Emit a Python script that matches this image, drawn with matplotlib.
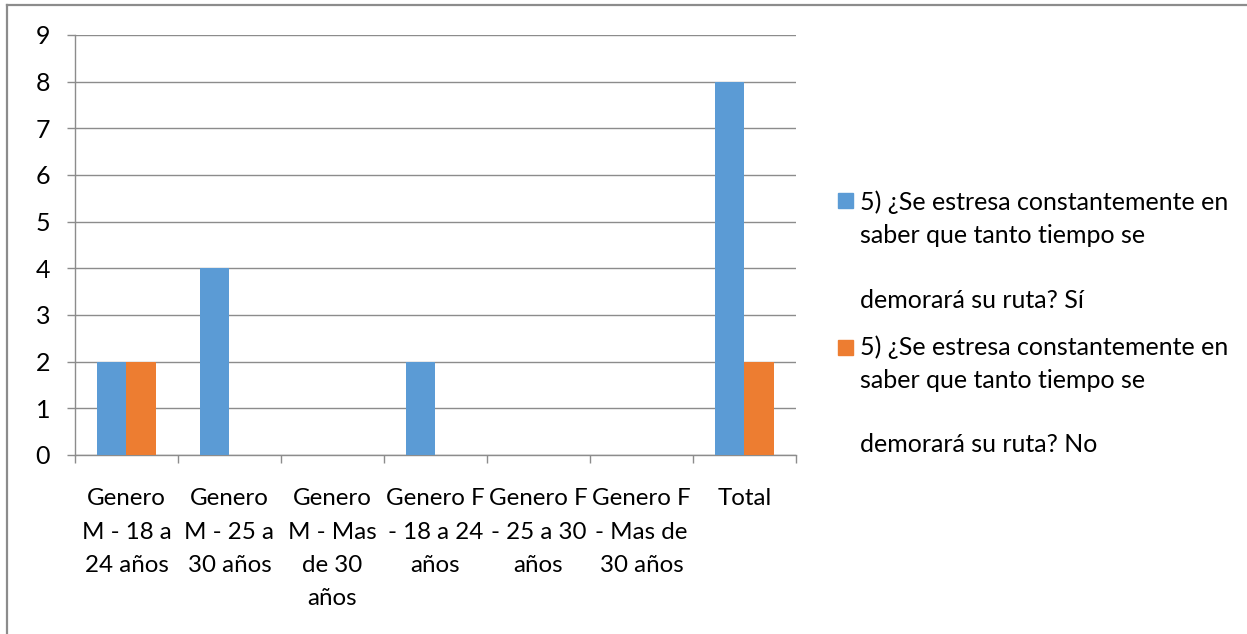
import matplotlib
matplotlib.use("Agg")
import matplotlib.pyplot as plt
from matplotlib.lines import Line2D
from matplotlib.patches import Rectangle
import numpy as np

plt.rcParams['font.family'] = ['Lato', 'DejaVu Sans']

categories = ["Genero\nM - 18 a\n24 años", "Genero\nM - 25 a\n30 años", "Genero\nM - Mas\nde 30\naños",
              "Genero F\n- 18 a 24\naños", "Genero F\n- 25 a 30\naños", "Genero F\n- Mas de\n30 años", "Total"]
si_values = [2, 4, 0, 2, 0, 0, 8]
no_values = [2, 0, 0, 0, 0, 0, 2]
series_labels = [
    ["5) ¿Se estresa constantemente en\nsaber que tanto tiempo se", "demorará su ruta? Sí"],
    ["5) ¿Se estresa constantemente en\nsaber que tanto tiempo se", "demorará su ruta? No"],
]
colors = ["#5B9BD5", "#ED7D31"]
yticks = list(range(0, 10))

W, H = 1247, 634
fig = plt.figure(figsize=(W / 100, H / 100), dpi=100)
ax = fig.add_axes([75 / W, 1 - 455 / H, (796 - 75) / W, (455 - 35) / H])

grid_c = "#8C8C8C"
FS = 18
x = np.arange(len(categories))
bw = 0.287
ax.bar(x - bw / 2, si_values, bw, color=colors[0], zorder=3)
ax.bar(x + bw / 2, no_values, bw, color=colors[1], zorder=3)

ax.set_xlim(-0.5, len(categories) - 0.5)
ax.set_ylim(0, 9)
ax.set_yticks(yticks)
ax.set_yticklabels([str(v) for v in yticks], fontsize=FS)
ax.yaxis.grid(True, color=grid_c, linewidth=1.0, zorder=0)
ax.tick_params(axis='y', length=6, width=1.0, color=grid_c, pad=12)

ax.set_xticks(x)
ax.set_xticklabels(categories, fontsize=17.4, linespacing=1.72, va='top')
ax.tick_params(axis='x', length=0, pad=24)
ax.set_xticks(np.arange(-0.5, len(categories), 1), minor=True)
ax.tick_params(axis='x', which='minor', length=6, width=1.0, color=grid_c)

for s in ['top', 'right']:
    ax.spines[s].set_visible(False)
for s in ['left', 'bottom']:
    ax.spines[s].set_color(grid_c)
    ax.spines[s].set_linewidth(1.0)

# legend (manual, Excel-style)
def fx(px):
    return px / W

def fy(py):
    return 1 - py / H

entries = [(193, 209, 243, 308), (340, 353, 388, 452)]
for (sq_top, b1, b2, b3), lab, col in zip(entries, series_labels, colors):
    fig.patches.append(Rectangle((fx(838), fy(sq_top + 15)), 15 / W, 15 / H,
                                 transform=fig.transFigure, color=col))
    fig.text(fx(860), fy(b2), lab[0], fontsize=FS, va='baseline', ha='left',
             linespacing=1.54)
    fig.text(fx(860), fy(b3), lab[1], fontsize=FS, va='baseline', ha='left')

# outer border (left and top)
fig.add_artist(Line2D([fx(7), fx(7)], [fy(5), 0], transform=fig.transFigure,
                      color=grid_c, linewidth=1.6))
fig.add_artist(Line2D([fx(7), 1], [fy(5), fy(5)], transform=fig.transFigure,
                      color=grid_c, linewidth=1.6))

fig.savefig("out.png", dpi=100)
